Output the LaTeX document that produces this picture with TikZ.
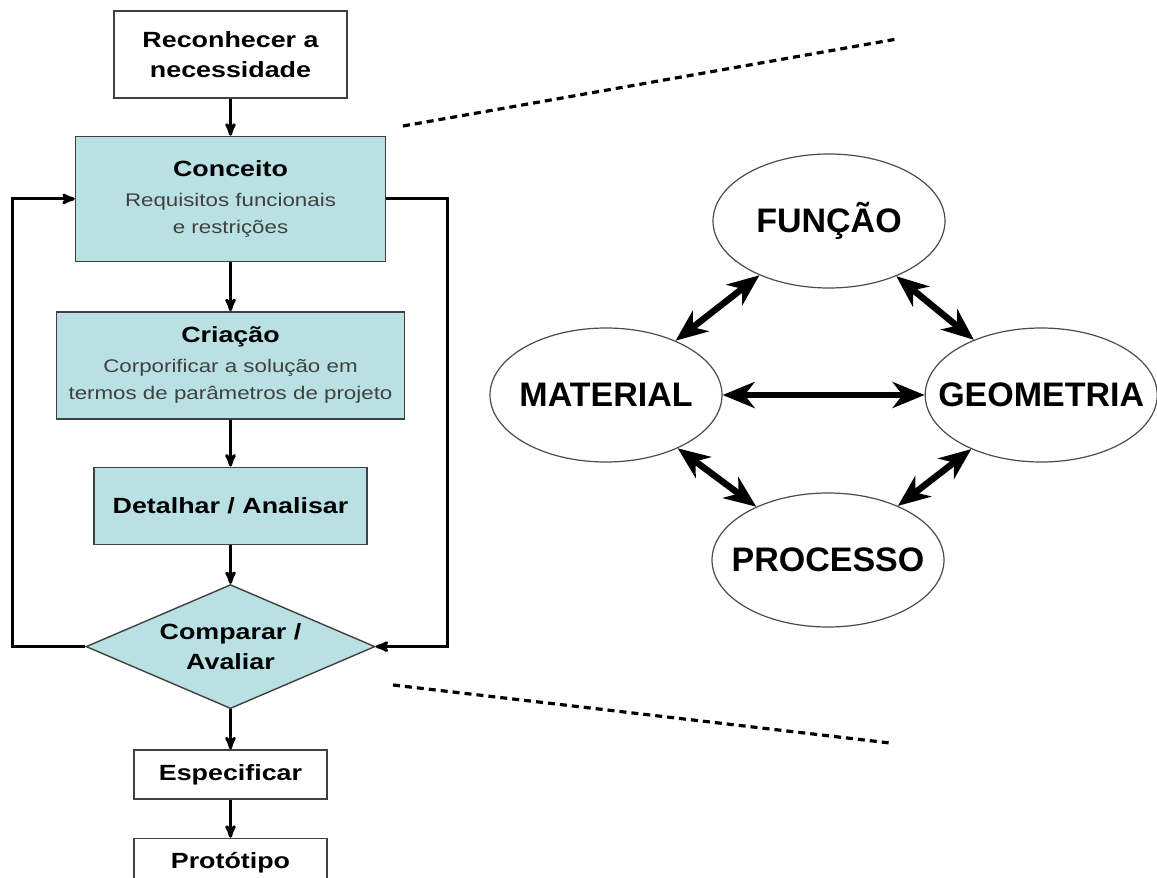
\documentclass[tikz,border=0pt]{standalone}
\usepackage{fontspec}
\setmainfont{Liberation Sans}
\newfontfamily\widefont[FakeStretch=1.22]{Liberation Sans}
\usepackage{xcolor}
\usepackage{tikz}
\usetikzlibrary{positioning}
\usetikzlibrary{arrows,arrows.meta,shapes.geometric}
\definecolor{boxfill}{RGB}{185,224,227}
\definecolor{subgray}{RGB}{64,64,64}
\newcommand{\ttlfont}{\widefont\bfseries\fontsize{22}{30}\selectfont}
\newcommand{\subtxt}[1]{{\mdseries\color{subgray}\fontsize{18.3}{27}\selectfont #1}}

\begin{document}
\begin{tikzpicture}[x=1pt,y=1pt,>=stealth',semithick,
    every node/.style={inner sep=0pt},
    whitebox/.style={rectangle,draw=black!75,line width=1.4pt,fill=white,
                     align=center,font=\ttlfont},
    bluebox/.style={whitebox,fill=boxfill},
    decision/.style={diamond,aspect=2.33,draw=black!75,line width=1.4pt,
                     fill=boxfill,align=center,font=\ttlfont,
                     minimum width=289pt,minimum height=124pt},
    topic/.style={ellipse,draw=black!70,line width=1.2pt,fill=white,
                  inner xsep=-45pt,inner ysep=0pt,
                  minimum width=232pt,minimum height=134pt,
                  font=\bfseries\fontsize{34}{40}\selectfont},
    flow/.style={->,line width=3pt},
    loopline/.style={->,line width=3pt},
    link/.style={{Stealth[length=32pt,width=26pt,inset=10pt]}-{Stealth[length=32pt,width=26pt,inset=10pt]},
                 line width=6.5pt},
    guide/.style={line width=3.2pt,dash pattern=on 7pt off 5pt}]
\useasboundingbox (0,0) rectangle (1157,-878);

% flowchart
\node[whitebox,minimum width=233pt,minimum height=87pt] (nec) at (230.5,-54.5)
     {Reconhecer a\\necessidade};
\node[bluebox,minimum width=310pt,minimum height=125pt,below=37pt of nec] (conceito)
     {\rule{0pt}{6pt}Conceito\\\subtxt{Requisitos funcionais}\\[-3pt]\subtxt{e restrições}};
\node[bluebox,minimum width=348pt,minimum height=107pt,below=49pt of conceito] (criacao)
     {Criação\\\subtxt{Corporificar a solução em}\\[-3pt]\subtxt{termos de parâmetros de projeto}};
\node[bluebox,minimum width=273pt,minimum height=77pt,below=47pt of criacao] (detalhar)
     {Detalhar / Analisar};
\node[decision,below=39pt of detalhar] (cmp) {Comparar /\\Avaliar};
\node[whitebox,minimum width=193pt,minimum height=49pt,below=40pt of cmp] (espec)
     {Especificar};
\node[whitebox,minimum width=193pt,minimum height=48pt,below=38pt of espec] (proto)
     {Protótipo};

\draw[flow] (nec) -- (conceito);
\draw[flow] (conceito) -- (criacao);
\draw[flow] (criacao) -- (detalhar);
\draw[flow] (detalhar) -- (cmp);
\draw[flow] (cmp) -- (espec);
\draw[flow] (espec) -- (proto);

% feedback loops
\coordinate[left=73pt of cmp.west] (lb);
\coordinate[right=72pt of cmp.east] (rb);
\draw[loopline] (cmp.west) -- (lb) |- (conceito.west);
\draw[loopline] (conceito.east) -| (rb) -- (cmp.east);

% zoom guides
\coordinate (g1) at (403,-126);
\coordinate (g2) at (897,-39);
\coordinate (g3) at (393,-685);
\coordinate (g4) at (890,-743);
\draw[guide] (g1) -- (g2);
\draw[guide] (g3) -- (g4);

% the four aspects
\node[topic] (funcao) at (829,-221) {FUNÇÃO};
\node[topic] (material) at (606,-395) {MATERIAL};
\node[topic,right=202pt of material] (geometria) {GEOMETRIA};
\node[topic] (processo) at (828,-560) {PROCESSO};

\draw[link] (funcao) -- (material);
\draw[link] (funcao) -- (geometria);
\draw[link] (material) -- (geometria);
\draw[link] (material) -- (processo);
\draw[link] (geometria) -- (processo);
\end{tikzpicture}
\end{document}
